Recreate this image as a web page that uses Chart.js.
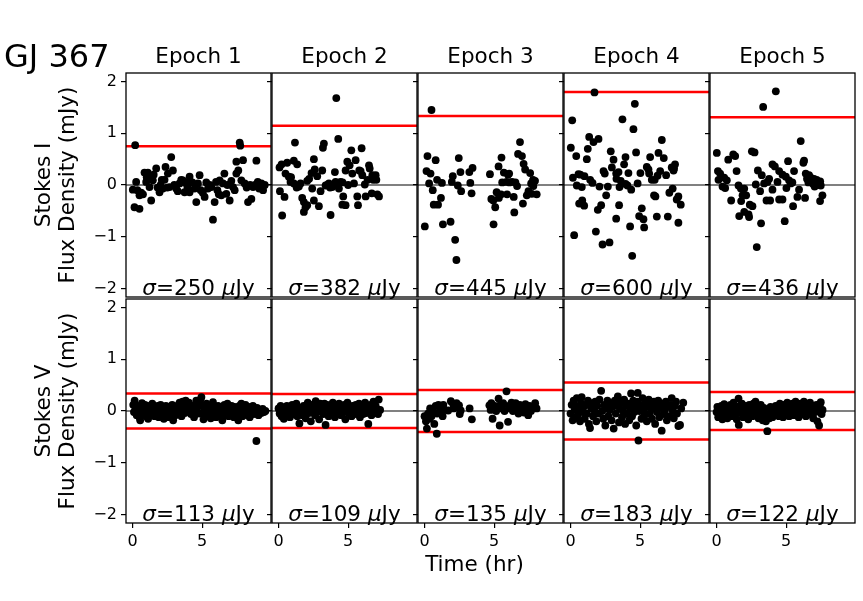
<!DOCTYPE html>
<html>
<head>
<meta charset="utf-8">
<script src="https://cdn.jsdelivr.net/npm/chart.js"></script>
<style>
  body { margin: 0; background: #fff; font-family: "DejaVu Sans", sans-serif; }
  #fig { position: relative; width: 863px; height: 601px; overflow: hidden; }
  #fig canvas { position: absolute; }
  .txt { position: absolute; white-space: nowrap; color: #000; line-height: 1; }
  .ylab { position: absolute; width: 240px; height: 48px; line-height: 24px; font-size: 21.5px;
          text-align: center; transform: rotate(-90deg); white-space: nowrap; }
</style>
</head>
<body>
<div id="fig"></div>
<script>
// data: [time (hr), flux density (mJy)]
const epochs = ['Epoch 1', 'Epoch 2', 'Epoch 3', 'Epoch 4', 'Epoch 5'];
const sigmaI = [250, 382, 445, 600, 436];   // uJy
const sigmaV = [113, 109, 135, 183, 122];   // uJy
const xTicks = [0, 5];
const yTicks = [-2, -1, 0, 1, 2];

const stokesI1 = [[0.19,0.77],[7.70,0.82],[7.74,0.76],[2.78,0.54],[7.46,0.45],[7.94,0.48],[8.90,0.47],[1.70,0.32],[0.86,0.24],[1.10,0.24],[2.37,0.35],[2.54,0.22],[2.90,0.28],[0.26,0.06],[0.02,-0.09],[0.50,-0.20],[0.14,-0.43],[0.50,-0.46],[1.34,-0.30],[0.98,0.06],[1.22,-0.04],[1.46,0.09],[1.94,-0.14],[2.18,-0.07],[2.66,-0.04],[3.14,-0.07],[3.38,0.03],[3.62,0.09],[3.86,0.03],[4.10,0.16],[3.74,-0.14],[4.10,-0.14],[4.46,-0.07],[4.82,0.19],[4.70,0.03],[4.58,-0.33],[5.18,-0.23],[5.42,-0.07],[5.66,-0.04],[5.78,-0.67],[5.90,-0.33],[6.00,0.06],[6.26,0.09],[6.50,0.03],[6.60,0.22],[6.38,-0.20],[6.74,-0.17],[6.98,-0.30],[7.22,-0.04],[7.34,-0.10],[7.46,0.22],[7.82,0.09],[8.06,0.03],[8.30,-0.33],[8.54,-0.27],[8.66,-0.04],[9.00,0.06],[9.26,0.03],[9.10,-0.07],[9.38,-0.10],
  [0.62,-0.15],[0.75,-0.18],[1.02,0.15],[1.20,0.12],[1.52,0.20],[2.02,0.00],[2.30,0.10],[2.50,-0.05],[3.00,0.00],[3.25,-0.12],[3.50,0.10],[3.95,-0.05],[4.30,0.05],[4.90,-0.10],[5.05,-0.15],[5.30,0.05],[5.55,0.00],[6.10,-0.10],[6.82,0.00],[7.10,0.08],[7.60,0.28],[8.20,-0.05],[8.45,0.00],[8.80,0.00],[9.50,0.00],[0.35,-0.10],[1.80,-0.05],[2.10,0.10],[4.00,0.05],[6.20,-0.18]];

const stokesI2 = [[4.15,1.68],[1.18,0.82],[4.29,0.89],[3.26,0.80],[3.19,0.72],[5.23,0.67],[5.97,0.71],[2.54,0.50],[0.07,0.34],[0.22,0.40],[0.62,0.43],[1.10,0.47],[1.34,0.40],[4.94,0.45],[5.11,0.38],[5.54,0.48],[6.50,0.38],[6.55,0.32],[3.14,0.28],[2.37,0.23],[2.78,0.17],[4.05,0.25],[4.82,0.28],[5.30,0.22],[5.90,0.27],[6.02,0.19],[0.50,0.22],[0.74,0.16],[0.86,0.06],[1.10,0.03],[1.46,-0.03],[1.58,0.03],[2.06,0.08],[3.38,-0.01],[3.62,0.03],[3.86,-0.04],[4.10,0.06],[4.34,-0.07],[4.46,0.06],[5.42,0.03],[6.20,0.01],[6.74,0.19],[6.98,0.19],[7.03,0.10],[0.10,-0.12],[0.43,-0.23],[2.42,-0.07],[3.02,-0.12],[1.70,-0.25],[1.82,-0.33],[2.06,-0.39],[2.54,-0.30],[2.90,-0.41],[1.94,-0.43],[1.82,-0.52],[4.65,-0.22],[4.58,-0.38],[4.82,-0.39],[5.66,-0.22],[5.71,-0.39],[6.26,-0.22],[6.70,-0.16],[7.10,-0.18],[7.22,-0.22],[0.26,-0.59],[3.74,-0.58],
  [3.50,0.00],[3.70,-0.05],[4.20,0.00],[4.60,0.05],[5.00,0.00],[1.30,-0.05],[2.20,0.12],[6.40,0.10],[6.80,0.10],[5.80,0.28],[0.90,0.15],[2.60,0.30]];

const stokesI3 = [[0.50,1.45],[0.21,0.56],[0.80,0.48],[2.46,0.52],[0.14,0.27],[0.43,0.22],[0.33,0.03],[0.90,0.10],[1.25,0.04],[0.59,-0.10],[2.03,0.17],[1.96,0.06],[2.39,-0.01],[2.58,0.25],[2.63,-0.12],[3.22,0.25],[3.45,0.33],[3.29,0.04],[3.38,-0.16],[1.18,-0.25],[0.66,-0.38],[0.97,-0.38],[0.02,-0.80],[1.32,-0.76],[1.87,-0.71],[2.20,-1.06],[2.29,-1.45],[4.70,0.21],[4.80,-0.27],[4.94,-0.30],[5.08,-0.43],[4.96,-0.76],[5.18,-0.14],[5.34,-0.25],[5.32,0.36],[5.53,0.53],[5.70,0.24],[6.08,0.22],[5.58,0.05],[5.89,0.06],[5.93,-0.18],[6.29,0.06],[6.53,0.05],[6.65,-0.02],[6.41,-0.23],[6.45,-0.53],[6.86,0.83],[6.72,0.60],[7.00,0.56],[7.12,0.41],[7.23,0.30],[7.59,0.23],[7.66,0.03],[7.94,0.08],[7.82,-0.02],[7.35,-0.20],[7.71,-0.17],[8.06,-0.18],[7.47,-0.12],[7.07,-0.36],
  [6.10,0.05],[6.00,0.20],[7.80,0.10],[5.50,-0.18]];

const stokesI4 = [[1.72,1.79],[4.62,1.57],[0.12,1.25],[3.73,1.27],[4.52,1.08],[1.34,0.93],[1.65,0.83],[2.01,0.89],[6.56,0.87],[0.02,0.72],[1.24,0.70],[0.41,0.56],[1.17,0.50],[2.89,0.65],[3.09,0.49],[3.95,0.54],[3.85,0.40],[4.71,0.63],[5.72,0.54],[6.32,0.62],[6.70,0.52],[2.97,0.34],[3.28,0.22],[3.45,0.25],[4.16,0.23],[2.46,0.22],[2.37,0.27],[5.02,0.23],[5.48,0.35],[5.65,0.22],[5.84,0.10],[6.05,0.10],[6.44,0.27],[6.87,0.19],[7.27,0.34],[7.51,0.40],[7.44,0.32],[0.17,0.14],[0.57,0.21],[1.00,0.17],[1.41,0.10],[1.58,0.04],[0.45,-0.01],[0.81,-0.04],[2.08,-0.03],[2.68,-0.03],[3.61,0.08],[3.52,-0.04],[4.09,-0.01],[4.36,-0.09],[4.82,0.03],[2.56,-0.20],[0.84,-0.30],[0.62,-0.36],[0.98,-0.40],[2.20,-0.39],[1.96,-0.48],[3.49,-0.39],[3.28,-0.65],[4.28,-0.80],[5.12,-0.45],[4.93,-0.60],[5.24,-0.66],[5.29,-0.82],[6.00,-0.20],[6.20,-0.61],[6.99,-0.61],[7.34,-0.07],[7.10,-0.15],[7.75,-0.22],[7.63,-0.28],[7.92,-0.38],[7.75,-0.73],[0.26,-0.97],[1.82,-0.90],[2.30,-1.15],[2.80,-1.11],[4.43,-1.37],
  [3.30,0.12],[3.95,0.02],[5.60,0.30],[6.25,0.18],[7.40,0.28],[6.10,-0.22],[0.70,0.20]];

const stokesI5 = [[4.26,1.81],[3.35,1.51],[6.05,0.85],[0.02,0.62],[1.20,0.59],[1.34,0.56],[0.84,0.49],[2.54,0.65],[2.73,0.63],[5.14,0.46],[6.24,0.43],[6.29,0.47],[4.02,0.40],[4.19,0.36],[0.10,0.27],[0.26,0.22],[0.14,0.10],[0.55,0.14],[0.74,0.09],[1.44,0.27],[2.97,0.28],[3.25,0.19],[4.50,0.27],[4.74,0.20],[5.57,0.27],[3.78,0.12],[3.66,0.06],[4.38,0.06],[4.98,0.16],[5.21,0.09],[5.33,0.03],[5.45,0.05],[6.41,0.22],[6.65,0.19],[6.77,0.14],[6.89,0.09],[7.13,0.06],[7.37,0.03],[7.49,-0.01],[7.01,0.12],[0.43,-0.03],[0.62,-0.06],[1.58,-0.01],[1.75,-0.07],[1.99,-0.07],[2.82,0.01],[3.42,0.03],[3.13,-0.12],[4.02,-0.09],[5.02,-0.06],[5.93,-0.09],[5.81,-0.23],[1.87,-0.20],[2.13,-0.20],[1.77,-0.31],[2.39,-0.38],[2.58,-0.41],[7.61,-0.20],[7.44,-0.31],[6.36,-0.25],[1.05,-0.30],[3.59,-0.30],[3.85,-0.30],[4.50,-0.28],[4.74,-0.28],[5.50,-0.41],[1.63,-0.60],[1.99,-0.52],[2.30,-0.57],[2.34,-0.62],[4.90,-0.70],[3.20,-0.74],[2.89,-1.20],
  [6.50,0.12],[6.60,0.05],[6.95,0.02],[7.20,0.10],[7.30,0.00],[7.45,0.07],[7.05,-0.03]];

const stokesV1 = [[0.05,0.12],[0.10,-0.02],[0.15,0.20],[0.22,0.05],[0.30,-0.08],[0.35,0.10],[0.42,0.00],[0.50,-0.12],[0.55,-0.18],[0.60,0.08],[0.68,0.15],[0.75,-0.05],[0.82,0.02],[0.90,0.12],[0.98,-0.10],[1.05,0.05],[1.12,-0.15],[1.20,0.10],[1.28,0.00],[1.35,-0.06],[1.42,0.14],[1.50,0.04],[1.58,-0.10],[1.65,0.08],[1.72,-0.02],[1.80,0.10],[1.88,-0.12],[1.95,0.02],[2.02,0.12],[2.10,-0.06],[2.18,0.06],[2.25,-0.15],[2.32,0.00],[2.40,0.10],[2.48,-0.08],[2.55,0.04],[2.62,-0.12],[2.70,0.06],[2.78,-0.04],[2.85,0.12],[2.92,-0.18],[3.00,0.02],[3.08,-0.08],[3.15,0.08],[3.22,-0.02],[3.30,0.12],[3.38,0.16],[3.45,0.05],[3.52,-0.10],[3.60,0.18],[3.68,0.08],[3.75,-0.04],[3.82,0.20],[3.90,0.12],[3.98,0.00],[4.05,0.16],[4.12,0.06],[4.20,-0.06],[4.28,0.10],[4.35,0.02],[4.42,-0.12],[4.50,0.08],[4.58,0.20],[4.65,0.00],[4.72,0.12],[4.80,-0.05],[4.88,0.22],[4.95,0.27],[5.02,0.10],[5.10,-0.16],[5.18,0.04],[5.25,-0.08],[5.32,0.14],[5.40,0.00],[5.48,-0.10],[5.55,0.06],[5.62,-0.14],[5.70,0.10],[5.78,0.17],[5.85,-0.04],[5.92,0.06],[6.00,-0.12],[6.08,0.00],[6.15,0.10],[6.22,-0.06],[6.30,0.08],[6.38,-0.02],[6.45,-0.18],[6.52,0.04],[6.60,0.12],[6.68,-0.08],[6.75,0.02],[6.82,0.14],[6.90,-0.10],[6.98,0.06],[7.05,-0.04],[7.12,0.10],[7.20,0.00],[7.28,-0.12],[7.35,0.08],[7.42,0.02],[7.50,-0.06],[7.60,-0.18],[7.68,0.10],[7.75,0.00],[7.82,0.14],[7.90,-0.10],[7.98,0.06],[8.05,-0.04],[8.12,0.12],[8.20,0.02],[8.28,-0.08],[8.35,0.08],[8.42,-0.12],[8.50,0.04],[8.58,-0.02],[8.65,0.10],[8.72,-0.06],[8.80,0.00],[8.90,-0.58],[8.95,0.06],[9.05,-0.08],[9.15,0.02],[9.25,-0.04],[9.35,0.04],[9.45,-0.02],[9.55,0.00]];

const stokesV2 = [[0.00,0.05],[0.08,-0.05],[0.15,0.10],[0.22,-0.10],[0.30,0.02],[0.38,-0.15],[0.45,0.06],[0.52,-0.02],[0.60,0.10],[0.68,-0.08],[0.75,0.00],[0.82,-0.12],[0.90,0.04],[0.98,0.12],[1.05,-0.06],[1.12,0.08],[1.20,-0.02],[1.28,0.14],[1.35,-0.10],[1.42,0.02],[1.50,-0.24],[1.58,0.06],[1.65,0.00],[1.72,-0.08],[1.80,0.10],[1.88,0.02],[1.95,-0.14],[2.02,0.08],[2.10,0.16],[2.18,-0.04],[2.25,0.04],[2.32,-0.20],[2.40,0.12],[2.48,0.00],[2.67,0.19],[2.62,-0.08],[2.70,0.06],[2.78,-0.02],[2.85,0.10],[2.92,-0.16],[3.00,0.14],[3.08,0.00],[3.15,0.10],[3.22,-0.06],[3.30,0.14],[3.38,-0.27],[3.45,0.04],[3.52,0.12],[3.60,-0.10],[3.68,0.02],[3.75,0.08],[3.82,-0.04],[3.90,0.16],[3.98,0.06],[4.05,-0.12],[4.12,0.00],[4.20,0.10],[4.28,-0.06],[4.35,0.14],[4.42,0.02],[4.50,-0.08],[4.58,0.08],[4.65,-0.02],[4.72,0.12],[4.80,-0.16],[4.88,0.04],[4.95,0.16],[5.02,-0.04],[5.10,0.08],[5.18,0.00],[5.25,-0.10],[5.32,0.10],[5.40,0.02],[5.48,-0.06],[5.55,0.12],[5.62,-0.02],[5.70,0.06],[5.78,0.14],[5.85,-0.12],[5.92,0.04],[6.00,0.10],[6.08,-0.06],[6.15,0.02],[6.22,0.16],[6.30,-0.04],[6.38,0.08],[6.45,-0.25],[6.52,0.00],[6.60,0.12],[6.68,-0.08],[6.75,0.06],[6.82,0.18],[6.90,-0.02],[6.98,0.10],[7.05,0.04],[7.20,0.22],[7.15,-0.06],[7.30,0.02]];

const stokesV3 = [[0.00,-0.10],[0.10,-0.20],[0.17,-0.34],[0.25,-0.05],[0.35,-0.15],[0.40,0.05],[0.50,-0.10],[0.60,0.00],[0.70,-0.25],[0.80,0.10],[0.88,-0.44],[0.90,-0.05],[1.00,0.12],[1.10,0.00],[1.20,0.08],[1.30,-0.10],[1.35,0.12],[1.45,0.02],[1.70,0.01],[1.89,0.19],[2.06,0.13],[2.10,0.05],[2.30,0.15],[2.48,0.11],[2.53,-0.06],[2.60,0.01],[3.24,0.05],[3.40,-0.16],
  [4.66,0.11],[4.75,0.02],[4.80,0.15],[4.89,-0.15],[4.95,0.05],[5.05,0.10],[5.15,0.00],[5.32,0.24],[5.40,-0.28],[5.45,0.12],[5.55,0.05],[5.65,0.15],[5.75,0.00],[5.89,0.38],[6.00,-0.21],[6.05,0.10],[6.15,0.05],[6.25,0.16],[6.35,0.00],[6.45,0.10],[6.55,0.15],[6.65,0.05],[6.75,-0.05],[6.85,0.12],[6.95,0.00],[7.05,0.08],[7.15,-0.03],[7.25,0.13],[7.35,0.05],[7.45,-0.08],[7.55,0.10],[7.65,0.00],[7.80,0.08],[7.95,0.15],[8.05,0.05]];

const stokesV4 = [[0.00,-0.05],[0.08,0.12],[0.15,-0.18],[0.22,0.20],[0.30,0.02],[0.33,-0.13],[0.40,0.10],[0.45,0.25],[0.52,-0.08],[0.60,0.05],[0.68,-0.20],[0.75,0.15],[0.80,0.27],[0.88,-0.02],[0.95,0.08],[1.02,-0.15],[1.10,0.12],[1.18,-0.05],[1.25,0.20],[1.32,-0.25],[1.40,-0.33],[1.48,0.05],[1.55,0.15],[1.62,-0.10],[1.70,0.02],[1.78,0.18],[1.85,-0.20],[1.92,0.10],[2.00,-0.05],[2.08,0.22],[2.20,0.39],[2.28,0.00],[2.35,-0.15],[2.42,0.12],[2.50,-0.28],[2.58,0.06],[2.65,0.20],[2.72,-0.10],[2.80,0.02],[2.88,0.15],[2.95,-0.18],[3.02,0.08],[3.10,-0.34],[3.18,0.20],[3.25,-0.05],[3.32,0.10],[3.40,0.28],[3.48,-0.22],[3.55,0.04],[3.62,0.16],[3.70,-0.12],[3.78,0.00],[3.85,0.22],[3.92,-0.25],[4.00,0.10],[4.08,-0.06],[4.15,0.14],[4.22,-0.18],[4.30,0.05],[4.35,0.34],[4.42,-0.10],[4.50,0.20],[4.58,-0.02],[4.65,0.10],[4.72,-0.28],[4.80,0.18],[4.83,0.35],[4.88,-0.57],[4.95,0.00],[5.02,0.12],[5.10,-0.15],[5.18,0.25],[5.25,0.02],[5.32,-0.08],[5.40,0.16],[5.48,-0.20],[5.55,0.08],[5.62,0.22],[5.70,-0.05],[5.78,0.12],[5.85,-0.15],[5.92,0.04],[6.00,0.18],[6.08,-0.25],[6.15,0.10],[6.22,-0.02],[6.30,0.20],[6.38,-0.12],[6.45,0.06],[6.55,-0.38],[6.62,0.14],[6.70,-0.06],[6.78,0.02],[6.85,0.18],[6.92,-0.18],[7.00,0.08],[7.08,-0.10],[7.15,0.12],[7.27,0.25],[7.35,0.00],[7.42,-0.14],[7.50,0.10],[7.58,0.18],[7.65,-0.05],[7.75,-0.29],[7.87,-0.27],[7.95,0.05],[8.10,0.16]];

const stokesV5 = [[0.00,-0.02],[0.06,0.08],[0.12,-0.12],[0.20,0.04],[0.28,-0.06],[0.35,0.10],[0.42,-0.16],[0.50,0.00],[0.55,0.13],[0.62,-0.08],[0.70,0.05],[0.78,-0.14],[0.85,0.08],[0.92,-0.02],[1.00,0.12],[1.08,-0.10],[1.15,0.02],[1.22,0.16],[1.30,-0.06],[1.38,0.08],[1.45,-0.16],[1.52,0.04],[1.58,0.24],[1.60,-0.27],[1.68,0.10],[1.75,-0.04],[1.82,0.14],[1.90,-0.12],[1.98,0.02],[2.05,0.10],[2.12,-0.08],[2.20,0.04],[2.28,-0.16],[2.35,0.12],[2.42,-0.02],[2.50,0.08],[2.58,-0.10],[2.65,0.14],[2.72,0.00],[2.80,0.18],[2.88,-0.06],[2.95,0.10],[3.02,-0.14],[3.10,0.04],[3.18,0.12],[3.25,-0.04],[3.32,-0.18],[3.40,0.06],[3.48,-0.08],[3.55,-0.20],[3.62,-0.10],[3.65,-0.39],[3.72,0.02],[3.80,-0.14],[3.88,0.08],[3.95,-0.06],[4.02,-0.12],[4.10,0.04],[4.18,-0.08],[4.25,0.10],[4.32,-0.02],[4.40,0.06],[4.48,-0.10],[4.55,0.14],[4.62,0.00],[4.70,0.08],[4.78,-0.12],[4.85,0.12],[4.92,0.02],[5.00,-0.06],[5.08,0.16],[5.15,0.04],[5.22,-0.10],[5.30,0.10],[5.38,0.00],[5.45,0.14],[5.52,-0.08],[5.60,0.06],[5.68,0.18],[5.75,-0.02],[5.82,0.10],[5.90,-0.12],[5.98,0.04],[6.05,0.14],[6.12,-0.06],[6.20,0.08],[6.28,0.18],[6.35,0.00],[6.42,-0.10],[6.50,0.12],[6.58,0.04],[6.65,-0.06],[6.72,0.16],[6.80,0.02],[6.88,0.10],[6.95,-0.14],[7.02,0.06],[7.10,-0.02],[7.18,0.12],[7.25,-0.20],[7.32,0.04],[7.37,-0.28],[7.42,0.10],[7.49,0.17],[7.55,-0.06],[7.62,0.02]];

const stokesI = [stokesI1, stokesI2, stokesI3, stokesI4, stokesI5];
const stokesV = [stokesV1, stokesV2, stokesV3, stokesV4, stokesV5];

// axes limits and layout
const XMIN = -0.47, XMAX = 9.95, YMIN = -2.165, YMAX = 2.165;
const colLeft = [126, 272, 418, 564, 710];
const rowTop = [73, 299];
const PW = 145, PH = 224;
const FONT = '"DejaVu Sans", sans-serif';

const fig = document.getElementById('fig');

// spines drawn on top of the points, like matplotlib
const framePlugin = {
  id: 'frame',
  afterDatasetsDraw(chart) {
    const { ctx, chartArea: a } = chart;
    ctx.save();
    ctx.strokeStyle = '#000';
    ctx.lineWidth = 1.3;
    ctx.strokeRect(a.left, a.top, a.right - a.left, a.bottom - a.top);
    ctx.restore();
  }
};

function fmtTick(v) {
  return v < 0 ? '\u2212' + Math.abs(v) : String(v);
}

function hline(y, color, width, order) {
  return {
    type: 'line',
    data: [{ x: XMIN, y: y }, { x: XMAX, y: y }],
    borderColor: color,
    borderWidth: width,
    pointRadius: 0,
    order: order
  };
}

function makePanel(row, col) {
  const pts = row === 0 ? stokesI[col] : stokesV[col];
  const sig = (row === 0 ? sigmaI[col] : sigmaV[col]) / 1000;
  const padL = col === 0 ? 60 : 10;
  const padR = 12, padT = 16;
  const padB = row === 1 ? 40 : 16;

  const cv = document.createElement('canvas');
  const w = PW + padL + padR, h = PH + padT + padB;
  cv.width = w; cv.height = h;
  cv.style.width = w + 'px'; cv.style.height = h + 'px';
  cv.style.left = (colLeft[col] - padL) + 'px';
  cv.style.top = (rowTop[row] - padT) + 'px';
  fig.appendChild(cv);

  const datasets = [
    {
      type: 'scatter',
      data: pts.map(p => ({ x: p[0], y: p[1] })),
      backgroundColor: '#000',
      borderWidth: 0,
      pointRadius: 3.9,
      order: 0
    },
    hline(0, '#808080', 2.2, 3),
    hline(3 * sig, '#ff0000', 2.5, 1)
  ];
  if (row === 1) datasets.push(hline(-3 * sig, '#ff0000', 2.5, 1));

  new Chart(cv, {
    type: 'scatter',
    data: { datasets: datasets },
    options: {
      responsive: false,
      animation: false,
      events: [],
      layout: { padding: { left: 0, right: padR, top: padT, bottom: 0 } },
      plugins: { legend: { display: false }, tooltip: { enabled: false } },
      scales: {
        x: {
          type: 'linear',
          min: XMIN, max: XMAX,
          afterFit: s => { s.height = padB; },
          afterBuildTicks: s => { s.ticks = xTicks.map(v => ({ value: v })); },
          border: { display: false },
          grid: { display: row === 1, drawOnChartArea: false, drawTicks: true, tickLength: 5, color: '#000', lineWidth: 1.2 },
          ticks: { display: row === 1, color: '#000', font: { family: FONT, size: 16 }, padding: 4, callback: fmtTick, maxRotation: 0 }
        },
        y: {
          type: 'linear',
          min: YMIN, max: YMAX,
          afterFit: s => { s.width = padL; },
          afterBuildTicks: s => { s.ticks = yTicks.map(v => ({ value: v })); },
          border: { display: false },
          grid: { drawOnChartArea: false, drawTicks: true, tickLength: 5, color: '#000', lineWidth: 1.2 },
          ticks: { display: col === 0, color: '#000', font: { family: FONT, size: 16 }, padding: 4, callback: fmtTick }
        }
      }
    },
    plugins: [framePlugin]
  });

  // sigma annotation at the bottom of each panel
  const s = document.createElement('div');
  s.className = 'txt';
  s.style.fontSize = '21.5px';
  s.style.width = PW + 'px';
  s.style.textAlign = 'center';
  s.style.left = colLeft[col] + 'px';
  s.style.top = (rowTop[row] + PH - 2 - 18.2) + 'px';
  s.innerHTML = '<i>\u03c3</i>=' + (row === 0 ? sigmaI[col] : sigmaV[col]) + ' <i>\u03bc</i>Jy';
  fig.appendChild(s);
}

for (let r = 0; r < 2; r++) {
  for (let c = 0; c < 5; c++) makePanel(r, c);
}

function addText(html, left, top, size, extra) {
  const d = document.createElement('div');
  d.className = 'txt';
  d.style.fontSize = size + 'px';
  d.style.left = left + 'px';
  d.style.top = top + 'px';
  if (extra) Object.assign(d.style, extra);
  d.innerHTML = html;
  fig.appendChild(d);
  return d;
}

// title and column headers
addText('GJ 367', 4, 40, 32);
epochs.forEach((e, i) => {
  addText(e, colLeft[i], 44.5, 21.5, { width: PW + 'px', textAlign: 'center' });
});

// y labels (two lines, rotated)
const rowLabels = [['Stokes I', 'Flux Density (mJy)'], ['Stokes V', 'Flux Density (mJy)']];
rowLabels.forEach((lines, r) => {
  const d = document.createElement('div');
  d.className = 'ylab';
  const cy = rowTop[r] + PH / 2;
  d.style.left = (54.7 - 120) + 'px';
  d.style.top = (cy - 24) + 'px';
  d.innerHTML = lines.join('<br>');
  fig.appendChild(d);
});

// x label
addText('Time (hr)', 374.5, 552.5, 21.5, { width: '200px', textAlign: 'center' });
</script>
</body>
</html>
